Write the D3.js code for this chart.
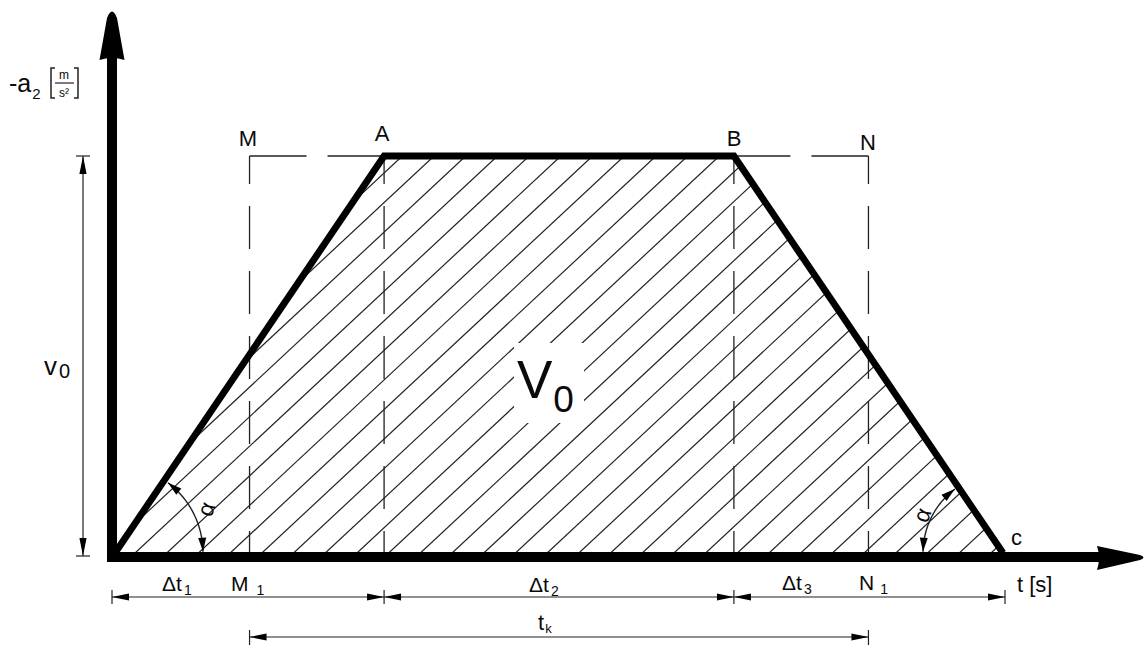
<!DOCTYPE html>
<html>
<head>
<meta charset="utf-8">
<script src="https://cdn.jsdelivr.net/npm/d3@7"></script>
<style>
  html, body { margin: 0; padding: 0; background: #fff; }
  svg { display: block; font-family: "Liberation Sans", Arial, sans-serif; }
</style>
</head>
<body>
<svg id="chart" width="1146" height="651"></svg>
<script>
// time marks along the t axis (arbitrary units) and the braking profile
var markNames = ["0", "M1", "A", "B", "N1", "C"];
var markTimes = [0, 1, 2, 4.6, 5.6, 6.6];
var profileT = [0, 2, 4.6, 6.6];
var profileA = [0, 1, 1, 0];
var v0 = 1;

// dimension chains
var chain1 = [0, 2, 4.6, 6.6];
var chain1Labels = ["Δt|1", "Δt|2", "Δt|3"];
var chain2 = [1, 5.6];

var svg = d3.select("#chart");
var ink = "#0a0a0a";

var x = d3.scaleLinear().domain([0, 6.6]).range([115, 1003]);
var y = d3.scaleLinear().domain([0, v0]).range([553, 156]);

// ---- hatching, clipped to the trapezoid
var pts = profileT.map(function(t, i) { return [x(t), y(profileA[i])]; });
svg.append("clipPath").attr("id", "trap")
  .append("polygon").attr("points", pts.map(function(p) { return p.join(","); }).join(" "));

var hatchStep = 31.7, hatchAng = 43 * Math.PI / 180;
var rise = y(0) - y(v0), run = rise / Math.tan(hatchAng);
var hatch = d3.range(-24, 24).map(function(k) { return 357 + k * hatchStep; });
svg.append("g").attr("clip-path", "url(#trap)")
  .selectAll("line").data(hatch).enter().append("line")
  .attr("x1", function(d) { return d; }).attr("y1", y(0))
  .attr("x2", function(d) { return d + run; }).attr("y2", y(v0))
  .attr("stroke", "#222").attr("stroke-width", 1.2);

// clear area behind the V0 label
svg.append("rect").attr("x", 514).attr("y", 343).attr("width", 70).attr("height", 80).attr("fill", "#fff");

// ---- dashed construction lines
var dashV = [1, 2, 4.6, 5.6];
svg.append("g").selectAll("line").data(dashV).enter().append("line")
  .attr("x1", function(d) { return x(d); }).attr("x2", function(d) { return x(d); })
  .attr("y1", y(v0)).attr("y2", y(0))
  .attr("stroke", "#222").attr("stroke-width", 1.3)
  .attr("stroke-dasharray", "43,22").attr("stroke-dashoffset", 15);
var dashH = [[1, 2], [5.6, 4.6]];
svg.append("g").selectAll("line").data(dashH).enter().append("line")
  .attr("x1", function(d) { return x(d[0]); }).attr("x2", function(d) { return x(d[1]); })
  .attr("y1", y(v0)).attr("y2", y(v0))
  .attr("stroke", "#222").attr("stroke-width", 1.3)
  .attr("stroke-dasharray", "57,21");

// ---- profile outline
var line = d3.line().x(function(d) { return x(d[0]); }).y(function(d) { return y(d[1]); });
svg.append("path")
  .attr("d", line(profileT.map(function(t, i) { return [t, profileA[i]]; })))
  .attr("fill", "none").attr("stroke", "#000").attr("stroke-width", 6.8)
  .attr("stroke-linejoin", "miter");

// ---- axes
svg.append("path").attr("d", "M112,58 L112,557 L1100,557")
  .attr("fill", "none").attr("stroke", "#000").attr("stroke-width", 10)
  .attr("stroke-linejoin", "miter");
svg.append("path").attr("d", "M99.5,60 L107,18 Q112,5 117,18 L124.5,60 Q112,56 99.5,60 Z").attr("fill", "#000");
svg.append("path").attr("d", "M1097,546 L1140,555 Q1147,557.5 1140,560 L1097,570 Q1101,558 1097,546 Z").attr("fill", "#000");

// ---- helpers
function arrowHead(g, tx, ty, ang, len, hw) {
  // ang: direction the arrow points to (radians, screen coords)
  var bx = tx - len * Math.cos(ang), by = ty - len * Math.sin(ang);
  var nx = -Math.sin(ang) * hw, ny = Math.cos(ang) * hw;
  g.append("path")
    .attr("d", "M" + tx + "," + ty + " L" + (bx + nx) + "," + (by + ny) + " L" + (bx - nx) + "," + (by - ny) + " Z")
    .attr("fill", "#000");
}
function subLabel(g, px, py, main, sub, size, subSize, subDx, subDy) {
  var t = g.append("text").attr("x", px).attr("y", py).attr("font-size", size).attr("fill", ink);
  t.append("tspan").text(main);
  t.append("tspan").attr("dx", subDx).attr("dy", subDy).attr("font-size", subSize).text(sub);
  return t;
}

// ---- dimension chain 1 (Δt1, Δt2, Δt3)
var dim = svg.append("g");
var yd1 = 597;
dim.append("line").attr("x1", x(chain1[0]) - 3).attr("x2", x(chain1[chain1.length - 1]) + 2)
  .attr("y1", yd1).attr("y2", yd1).attr("stroke", "#222").attr("stroke-width", 1.2);
chain1.forEach(function(t, i) {
  var px = x(t) + (i === 0 ? -3 : (i === chain1.length - 1 ? 2 : 0));
  dim.append("line").attr("x1", px).attr("x2", px).attr("y1", yd1 - 7).attr("y2", yd1 + 7)
    .attr("stroke", "#222").attr("stroke-width", 1.2);
  if (i > 0) arrowHead(dim, px, yd1, 0, 17, 3.6);
  if (i < chain1.length - 1) arrowHead(dim, px, yd1, Math.PI, 17, 3.6);
});

// ---- dimension chain 2 (tk)
var yd2 = 637;
dim.append("line").attr("x1", x(chain2[0])).attr("x2", x(chain2[1]))
  .attr("y1", yd2).attr("y2", yd2).attr("stroke", "#222").attr("stroke-width", 1.2);
chain2.forEach(function(t, i) {
  dim.append("line").attr("x1", x(t)).attr("x2", x(t)).attr("y1", yd2 - 7).attr("y2", yd2 + 8)
    .attr("stroke", "#222").attr("stroke-width", 1.2);
  arrowHead(dim, x(t), yd2, i === 0 ? Math.PI : 0, 17, 3.6);
});

// ---- v0 dimension
var xv = 83;
dim.append("line").attr("x1", xv).attr("x2", xv).attr("y1", y(v0)).attr("y2", y(0) + 3)
  .attr("stroke", "#222").attr("stroke-width", 1.2);
[y(v0), y(0) + 3].forEach(function(py, i) {
  dim.append("line").attr("x1", xv - 7).attr("x2", xv + 7).attr("y1", py).attr("y2", py)
    .attr("stroke", "#222").attr("stroke-width", 1.2);
  arrowHead(dim, xv, py, i === 0 ? -Math.PI / 2 : Math.PI / 2, 18, 3.6);
});

// ---- angle arcs
var slope = Math.atan2(y(0) - y(v0), x(2) - x(0));
function angleArc(cx, cy, r, flip, a0, a1) {
  var g = svg.append("g");
  var pt = function(a) { return [cx + flip * r * Math.cos(a), cy - r * Math.sin(a)]; };
  var arc = d3.range(0, 41).map(function(i) { return pt(a0 + (a1 - a0) * i / 40); });
  g.append("path").attr("d", d3.line()(arc)).attr("fill", "none").attr("stroke", "#222").attr("stroke-width", 1.4);
  var e0 = pt(a0), i0 = pt(a0 + 0.08), e1 = pt(a1), i1 = pt(a1 - 0.08);
  arrowHead(g, e0[0], e0[1], Math.atan2(e0[1] - i0[1], e0[0] - i0[0]), 14, 4);
  arrowHead(g, e1[0], e1[1], Math.atan2(e1[1] - i1[1], e1[0] - i1[0]), 14, 4);
}
angleArc(x(0), y(0), 88, 1, 0.015, slope - 0.05);
angleArc(x(6.6), y(0), 80, -1, 0.015, slope - 0.05);

svg.append("text").attr("transform", "translate(206,509) rotate(-70)")
  .attr("text-anchor", "middle").attr("dominant-baseline", "central")
  .attr("font-size", 23).attr("fill", ink).text("α");
svg.append("text").attr("transform", "translate(922,515) rotate(-70)")
  .attr("text-anchor", "middle").attr("dominant-baseline", "central")
  .attr("font-size", 23).attr("fill", ink).text("α");

// ---- point labels
var lab = svg.append("g").attr("fill", ink).attr("font-size", 22).attr("text-anchor", "middle");
lab.append("text").attr("x", 248).attr("y", 146).text("M");
lab.append("text").attr("x", 382).attr("y", 141).text("A");
lab.append("text").attr("x", 734).attr("y", 146).text("B");
lab.append("text").attr("x", 868).attr("y", 150).text("N");
svg.append("text").attr("x", 1011).attr("y", 545).attr("font-size", 22).attr("fill", ink).text("c");
svg.append("text").attr("x", 1017).attr("y", 592).attr("font-size", 22).attr("fill", ink).text("t [s]");

// V0 in the middle of the area
subLabel(svg, 517, 398, "V", "0", 53, 37, 1, 14);

// chain labels
var chainLabelX = [162, 529, 782];
var chainLabelY = [591, 592, 590];
chain1Labels.forEach(function(s, i) {
  var p = s.split("|");
  subLabel(svg, chainLabelX[i], chainLabelY[i], p[0], p[1], 21, 14, 2, 4);
});
subLabel(svg, 231, 591, "M", "1", 21, 14, 8, 4);
subLabel(svg, 859, 590, "N", "1", 21, 14, 6, 4);
subLabel(svg, 538, 630, "t", "k", 22, 13, 1, 3);

// v0 label on the left dimension
subLabel(svg, 44, 375, "v", "0", 26, 20, 2, 3);

// y-axis label -a2 [m/s²]
var yl = svg.append("g").attr("fill", ink);
subLabel(yl, 9, 92, "-a", "2", 25, 15, 1, 7);
yl.append("path").attr("d", "M55,68 L51,68 L51,98 L55,98 M74,68 L78,68 L78,98 L74,98")
  .attr("fill", "none").attr("stroke", "#222").attr("stroke-width", 1.5);
yl.append("line").attr("x1", 55).attr("x2", 74).attr("y1", 83).attr("y2", 83)
  .attr("stroke", "#222").attr("stroke-width", 1.2);
yl.append("text").attr("x", 64).attr("y", 79).attr("font-size", 12).attr("text-anchor", "middle").text("m");
yl.append("text").attr("x", 64).attr("y", 97).attr("font-size", 12).attr("text-anchor", "middle").text("s²");
</script>
</body>
</html>
